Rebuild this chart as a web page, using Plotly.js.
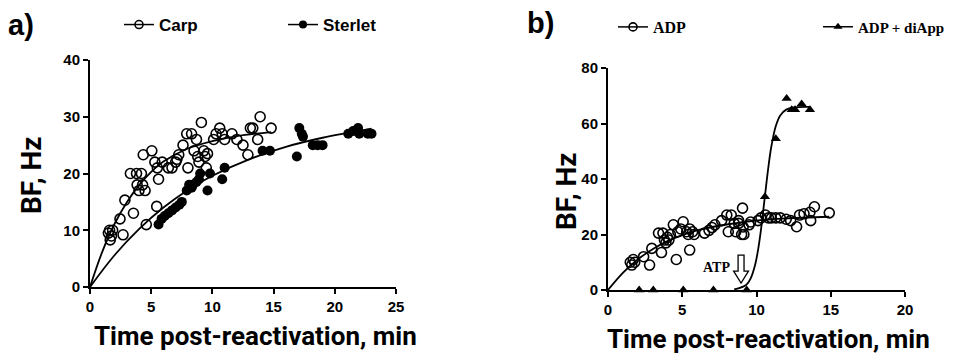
<!DOCTYPE html>
<html>
<head>
<meta charset="utf-8">
<script src="https://cdn.plot.ly/plotly-3.0.1.min.js"></script>
<style>html,body{margin:0;padding:0;background:#fff}#chart{width:953px;height:353px}</style>
</head>
<body>
<div id="chart"></div>
<script>
// ---- Panel a) data ----
const carpX = [1.5,1.6,1.65,1.75,1.85,2.45,2.7,2.85,3.3,3.55,3.8,3.85,4.0,4.2,4.3,4.35,4.5,4.6,5.05,5.3,5.45,5.5,5.6,5.9,6.4,6.7,7.0,7.1,7.25,7.6,7.9,8.0,8.3,8.5,8.7,8.8,8.9,9.1,9.3,9.4,9.5,9.6,10.1,10.3,10.6,10.8,11.0,11.6,12.0,12.5,12.9,13.1,13.3,13.7,13.9,14.8];
const carpY = [9.5,10,8.3,9,10,12,9.2,15.3,20,13,20,18,17,20,18,23.3,17,11,24,22,14.2,21,19,22,21,21,22,22.5,23.3,25,27,21,27,24,26,23,22,29,24,23,21,23.5,26,27,28,27,26,27,26,25,23.3,28,28,26,30,28];
const sterletX = [5.6,5.85,6.1,6.4,6.7,7.0,7.3,7.5,7.9,8.1,8.3,8.4,8.7,8.9,9.0,9.6,9.8,10.8,11.0,14.1,14.7,16.9,17.1,17.3,17.4,18.2,18.6,19.0,21.1,21.5,21.9,22.0,22.7,23.0];
const sterletY = [11,12,12.5,13,13.5,14,14.5,15,17,18,17.5,18,18.5,19,20,17,20,19,21,24,24,23,28,27,26.5,25,25,25,27,27.5,28,27,27,27];
// fitted curves
const carpFitX = [0,1,2,3,4,5,6,8,10,12,14.8];
const carpFitY = [0,6.2,11.1,14.9,17.9,20.3,22.1,24.4,25.7,26.6,27.3];
const sterletFitX = [0,2,4,6,8,10,13,16,19,23];
const sterletFitY = [0,5.6,10.2,14.0,17.1,19.6,22.5,24.7,26.3,27.9];
const aXTicks = [0,5,10,15,20,25];
const aYTicks = [0,10,20,30,40];

// ---- Panel b) data ----
const adpX = [1.5,1.6,1.7,1.8,2.4,2.8,2.95,3.4,3.6,3.7,3.8,3.9,4.0,4.1,4.2,4.4,4.6,4.7,4.9,5.06,5.3,5.4,5.5,5.5,5.7,5.8,6.5,6.8,7.0,7.2,7.65,8.0,8.1,8.3,8.5,8.6,8.8,8.8,9.0,9.06,9.1,9.15,9.5,9.6,10.1,10.3,10.6,10.8,11.0,11.3,11.6,12.0,12.3,12.7,12.9,13.2,13.6,13.65,13.9,14.9];
const adpY = [10,9,11,10,12,9,15,20.5,13.5,20.5,18,17,19,18,20,23.5,11,21,22,24.6,21,20,22,14.4,21,20,20.5,21.5,22.5,23.5,25,27,21,27,24,21,25,24,20,29.5,22.7,20,23.5,24.5,25,26,27,26,26,26,26,25.5,25,22.8,27,27.5,28,25,30,27.8];
const diAppX = [2.1,3.05,5.07,7.1,9.34,10.57,11.3,12.03,12.37,12.6,13.04,13.6];
const diAppY = [0,0,0,0,0,33.6,54.5,69,65,65,67,65];
const adpFitX = [0,1,2,3,4,5,6,8,10,12,14.9];
const adpFitY = [0,6.2,11.0,14.7,17.6,19.8,21.5,23.6,25.0,25.8,26.4];
const diAppFitX = [8.5,9.3,9.6,9.9,10.1,10.3,10.55,10.8,11.0,11.3,11.6,12.0,12.5,13.6];
const diAppFitY = [0.2,1.8,4.1,8.9,14.3,21.7,33,44.3,51.7,59.1,62.9,65.0,65.8,66.0];
const bXTicks = [0,5,10,15,20];
const bYTicks = [0,20,40,60,80];

const sans = 'Liberation Sans, Arial, sans-serif';
const narrow = 'Roboto, Liberation Sans, Arial, sans-serif';
const serif = 'Liberation Serif, Times New Roman, serif';

const openM = {symbol:'circle-open', size:10, color:'#000', line:{width:1.6, color:'#000'}};
const fillM = {symbol:'circle', size:10, color:'#000'};
const triM = {symbol:'triangle-up', size:9, color:'#000'};
const lineS = {color:'#000', width:1.8, shape:'spline'};

const traces = [
  {x:carpFitX, y:carpFitY, mode:'lines', line:lineS, xaxis:'x', yaxis:'y', showlegend:false, cliponaxis:false},
  {x:sterletFitX, y:sterletFitY, mode:'lines', line:lineS, xaxis:'x', yaxis:'y', showlegend:false, cliponaxis:false},
  {x:carpX, y:carpY, mode:'markers', marker:openM, xaxis:'x', yaxis:'y', showlegend:false, cliponaxis:false},
  {x:sterletX, y:sterletY, mode:'markers', marker:fillM, xaxis:'x', yaxis:'y', showlegend:false, cliponaxis:false},
  {x:adpFitX, y:adpFitY, mode:'lines', line:lineS, xaxis:'x2', yaxis:'y2', showlegend:false, cliponaxis:false},
  {x:diAppFitX, y:diAppFitY, mode:'lines', line:lineS, xaxis:'x2', yaxis:'y2', showlegend:false, cliponaxis:false},
  {x:adpX, y:adpY, mode:'markers', marker:openM, xaxis:'x2', yaxis:'y2', showlegend:false, cliponaxis:false},
  {x:diAppX, y:diAppY, mode:'markers', marker:triM, xaxis:'x2', yaxis:'y2', showlegend:false, cliponaxis:false},
  // legend entries
  {x:[null], y:[null], mode:'lines+markers', name:'Carp', marker:{symbol:'circle-open', size:8, color:'#000', line:{width:1.6,color:'#000'}}, line:{color:'#000', width:1.5}, xaxis:'x', yaxis:'y', legend:'legend'},
  {x:[null], y:[null], mode:'lines+markers', name:'Sterlet', marker:{symbol:'circle', size:8, color:'#000'}, line:{color:'#000', width:1.5}, xaxis:'x', yaxis:'y', legend:'legend2'},
  {x:[null], y:[null], mode:'lines+markers', name:'ADP', marker:{symbol:'circle-open', size:8, color:'#000', line:{width:1.6,color:'#000'}}, line:{color:'#000', width:1.5}, xaxis:'x2', yaxis:'y2', legend:'legend3'},
  {x:[null], y:[null], mode:'lines+markers', name:'ADP + diApp', marker:{symbol:'triangle-up', size:8, color:'#000'}, line:{color:'#000', width:1.5}, xaxis:'x2', yaxis:'y2', legend:'legend4'}
];

function axis(dom, rng, ticks, anchor){
  return {domain:dom, range:rng, tickvals:ticks, ticktext:ticks.map(String), anchor:anchor,
    showline:true, linecolor:'#000', linewidth:2, ticks:'outside', ticklen:5, tickwidth:2, tickcolor:'#000',
    showgrid:false, zeroline:false, fixedrange:true, layer:'below traces',
    tickfont:{family:sans, size:15, color:'#000', weight:'bold'}};
}
function leg(x, y, fam, size){
  return {x:x, y:y, xanchor:'left', yanchor:'middle', bgcolor:'rgba(0,0,0,0)', borderwidth:0,
    itemwidth:30, font:{family:fam, size:size, color:'#000', weight:'bold'}};
}

const titleFont = {family:narrow, size:26, color:'#000', weight:'bold'};
const yTitleFont = {family:narrow, size:28, color:'#000', weight:'bold'};
function note(text, x, y, font, extra){
  return Object.assign({text:text, xref:'paper', yref:'paper', x:x/953, y:1-y/353, xanchor:'center', yanchor:'middle', showarrow:false, font:font}, extra||{});
}
const layout = {
  width:953, height:353, margin:{l:0,r:0,t:0,b:0}, paper_bgcolor:'#fff', plot_bgcolor:'#fff',
  xaxis: axis([90/953, 396/953], [0,25], aXTicks, 'y'),
  yaxis: axis([1-287/353, 1-60/353], [0,40], aYTicks, 'x'),
  xaxis2: axis([608/953, 905/953], [0,20], bXTicks, 'y2'),
  yaxis2: axis([1-290/353, 1-68/353], [0,80], bYTicks, 'x2'),
  legend: leg(119/953, 1-25/353, sans, 17),
  legend2: leg(283/953, 1-25/353, sans, 17),
  legend3: leg(613/953, 1-27/353, serif, 16),
  legend4: leg(818/953, 1-27/353, serif, 15),
  annotations: [
    note('a)', 21, 25, {family:sans, size:29, color:'#000', weight:'bold'}),
    note('b)', 540, 23, {family:sans, size:29, color:'#000', weight:'bold'}),
    note('BF, Hz', 31, 175, yTitleFont, {textangle:-90}),
    note('BF, Hz', 566, 191, yTitleFont, {textangle:-90}),
    note('Time post-reactivation, min', 255, 336, titleFont),
    note('Time post-reactivation, min', 768, 339, titleFont),
    {text:'ATP', xref:'x2', yref:'y2', x:7.3, y:8.1, xanchor:'center', yanchor:'middle', showarrow:false, font:{family:serif, size:14, color:'#000', weight:'bold'}}
  ],
  shapes: [
    {type:'path', xref:'x2', yref:'y2', path:'M 8.76,12.6 L 9.16,12.6 L 9.16,6.8 L 9.46,6.8 L 8.96,2.5 L 8.46,6.8 L 8.76,6.8 Z',
     line:{color:'#000', width:1.3}, fillcolor:'#fff'}
  ]
};

Plotly.newPlot('chart', traces, layout, {staticPlot:true, displayModeBar:false});
</script>
</body>
</html>
